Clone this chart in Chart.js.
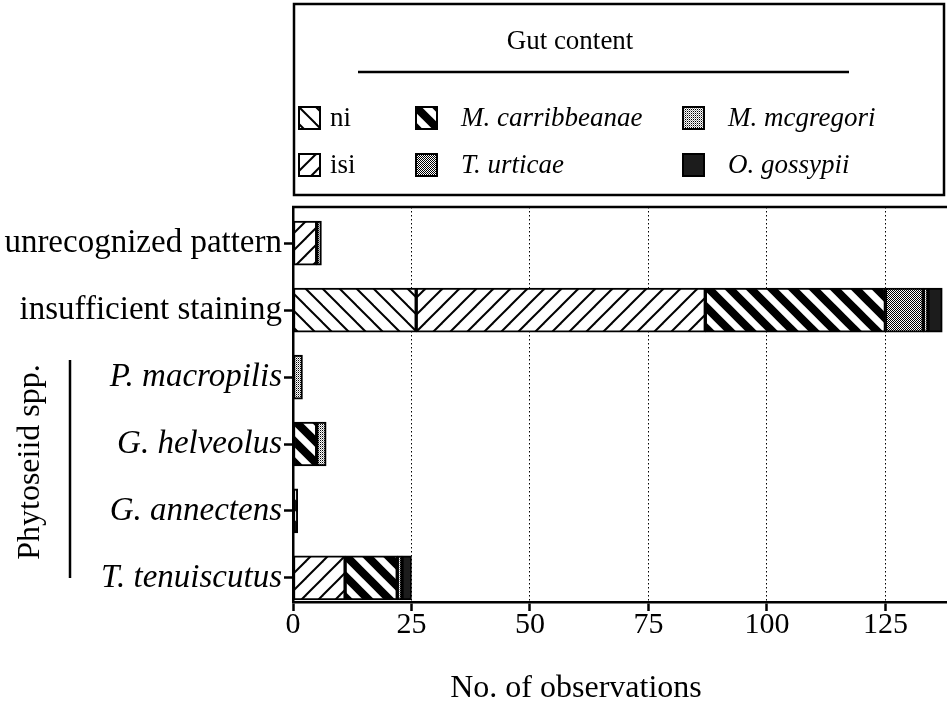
<!DOCTYPE html>
<html><head><meta charset="utf-8">
<script src="https://cdn.jsdelivr.net/npm/chart.js@4.4.1/dist/chart.umd.min.js"></script>
<style>html,body{margin:0;padding:0;background:#fff;} #wrap{width:947px;height:711px;position:relative;}</style>
</head><body><div id="wrap"><canvas id="c" width="947" height="711"></canvas></div>
<script>
// ---- data ----
const categories = ['unrecognized pattern', 'insufficient staining', 'P. macropilis', 'G. helveolus', 'G. annectens', 'T. tenuiscutus'];
const seriesNames = ['ni', 'isi', 'M. carribbeanae', 'T. urticae', 'M. mcgregori', 'O. gossypii'];
const ni            = [0, 26, 0, 0, 0, 0];
const isi           = [5, 61, 0, 0, 0, 11];
const mCarribbeanae = [0, 38, 0, 5, 1, 11];
const tUrticae      = [0, 8, 0, 0, 0, 0];
const mMcgregori    = [1, 1, 2, 2, 0, 1];
const oGossypii     = [0, 3, 0, 0, 0, 2];
const xTicks = [0, 25, 50, 75, 100, 125];
const xTitle = 'No. of observations';
const groupTitle = 'Phytoseiid spp.';
const legendTitle = 'Gut content';

// ---- patterns ----
function tile(size, draw) {
  const c = document.createElement('canvas');
  c.width = size; c.height = size;
  const g = c.getContext('2d');
  g.fillStyle = '#fff'; g.fillRect(0, 0, size, size);
  draw(g, size);
  return c;
}
function hatch(size, lw, dir) {
  return tile(size, (g, s) => {
    g.strokeStyle = '#000'; g.lineWidth = lw; g.lineCap = 'square';
    for (let k = -1; k <= 1; k++) {
      g.beginPath();
      if (dir === 'back') { g.moveTo(k * s, 0); g.lineTo(k * s + s, s); }
      else { g.moveTo(k * s, s); g.lineTo(k * s + s, 0); }
      g.stroke();
    }
  });
}
function stipple(pattern) {
  return tile(pattern.length, (g, s) => {
    for (let y = 0; y < s; y++) for (let x = 0; x < s; x++) if (pattern[y][x]) { g.fillStyle = pattern[y][x]; g.fillRect(x, y, 1, 1); }
  });
}
const ctx0 = document.getElementById('c').getContext('2d');
const tiles = [
  hatch(17, 2, 'back'),
  hatch(17, 2, 'fwd'),
  hatch(21, 8, 'back'),
  stipple([['#000', 0], [0, '#000']]),
  stipple([['#000', 0], [0, '#999']]),
  null
];
const fills = tiles.map(t => t ? ctx0.createPattern(t, 'repeat') : '#1c1c1c');
const seriesData = [ni, isi, mCarribbeanae, tUrticae, mMcgregori, oGossypii];

const datasets = seriesData.map((arr, si) => ({
  label: seriesNames[si],
  data: arr.map((v, i) => ({x: v, y: i})).filter(p => p.x > 0),
  backgroundColor: fills[si],
  borderColor: '#000',
  borderWidth: 2,
  borderSkipped: false,
  barThickness: 44
}));

const SERIF = '"Liberation Serif", "Times New Roman", serif';
const Y_MIN = -0.54, Y_MAX = 5.36;

const decor = {
  id: 'decor',
  afterDraw(chart) {
    const ctx = chart.ctx, a = chart.chartArea;
    ctx.save();
    ctx.strokeStyle = '#000'; ctx.fillStyle = '#000';
    ctx.lineWidth = 2.5;
    ctx.beginPath(); ctx.moveTo(a.left - 1, a.top); ctx.lineTo(a.right, a.top); ctx.stroke();
    ctx.strokeRect(294, 4, 650, 191);
    ctx.font = '27px ' + SERIF;
    ctx.textAlign = 'center'; ctx.textBaseline = 'middle';
    ctx.fillText(legendTitle, 570, 42);
    ctx.beginPath(); ctx.moveTo(358, 72); ctx.lineTo(849, 72); ctx.stroke();
    const cols = [[299, 330], [416, 461], [683, 728]];
    const rows = [118, 165];
    seriesNames.forEach((name, i) => {
      const col = cols[Math.floor(i / 2)], ry = rows[i % 2];
      const sx = col[0], sy = ry - 11, sw = 21;
      ctx.save();
      ctx.translate(sx, sy);
      ctx.fillStyle = fills[i];
      ctx.fillRect(0, 0, sw, 22);
      ctx.lineWidth = 2;
      ctx.strokeRect(0, 0, sw, 22);
      ctx.restore();
      ctx.font = (i >= 2 ? 'italic ' : '') + '27px ' + SERIF;
      ctx.textAlign = 'left';
      ctx.fillText(name, col[1], ry + 1);
    });
    ctx.lineWidth = 2.5;
    ctx.beginPath(); ctx.moveTo(70, 360); ctx.lineTo(70, 578); ctx.stroke();
    ctx.save();
    ctx.translate(31, 462);
    ctx.rotate(-Math.PI / 2);
    ctx.font = '32px ' + SERIF;
    ctx.textAlign = 'center'; ctx.textBaseline = 'middle';
    ctx.fillText(groupTitle, 0, 0);
    ctx.restore();
    ctx.font = '32px ' + SERIF;
    ctx.textAlign = 'center'; ctx.textBaseline = 'middle';
    ctx.fillText(xTitle, 576, 689);
    ctx.restore();
  }
};

new Chart(document.getElementById('c'), {
  type: 'bar',
  data: { datasets },
  options: {
    indexAxis: 'y',
    responsive: false,
    animation: false,
    devicePixelRatio: 1,
    layout: { padding: { top: 207, right: 0, bottom: 0, left: 0 } },
    plugins: { legend: { display: false }, tooltip: { enabled: false } },
    scales: {
      x: {
        type: 'linear', min: 0, max: 138, stacked: true, position: 'bottom', bounds: 'data',
        afterBuildTicks: s => { s.min = 0; s.max = 138; s.ticks = xTicks.map(v => ({ value: v })); },
        afterFit: s => { s.height = 109; },
        ticks: { autoSkip: false, maxRotation: 0, padding: -4, color: '#000', font: { family: SERIF, size: 30 } },
        grid: {
          color: c => (c.tick && c.tick.value === 0) ? 'rgba(0,0,0,0)' : '#000',
          lineWidth: 1, tickLength: 9, tickWidth: 2.5, tickColor: '#000', tickBorderDash: []
        },
        border: { display: true, color: '#000', width: 2.5, dash: [1.5, 2.5] }
      },
      y: {
        type: 'linear', reverse: true, min: Y_MIN, max: Y_MAX, stacked: true, bounds: 'data', offset: false,
        afterBuildTicks: s => { s.min = Y_MIN; s.max = Y_MAX; s.ticks = categories.map((_, i) => ({ value: i })); },
        afterFit: s => { s.width = 293; },
        ticks: {
          autoSkip: false, padding: 2, color: '#000',
          callback: v => categories[v],
          font: c => ({ family: SERIF, size: 33, style: (c.index >= 2) ? 'italic' : 'normal' })
        },
        grid: { offset: false, drawOnChartArea: false, tickLength: 9, tickWidth: 2.5, tickColor: '#000', color: '#000' },
        border: { display: true, color: '#000', width: 2.5 }
      }
    }
  },
  plugins: [decor]
});
</script>
</body></html>
